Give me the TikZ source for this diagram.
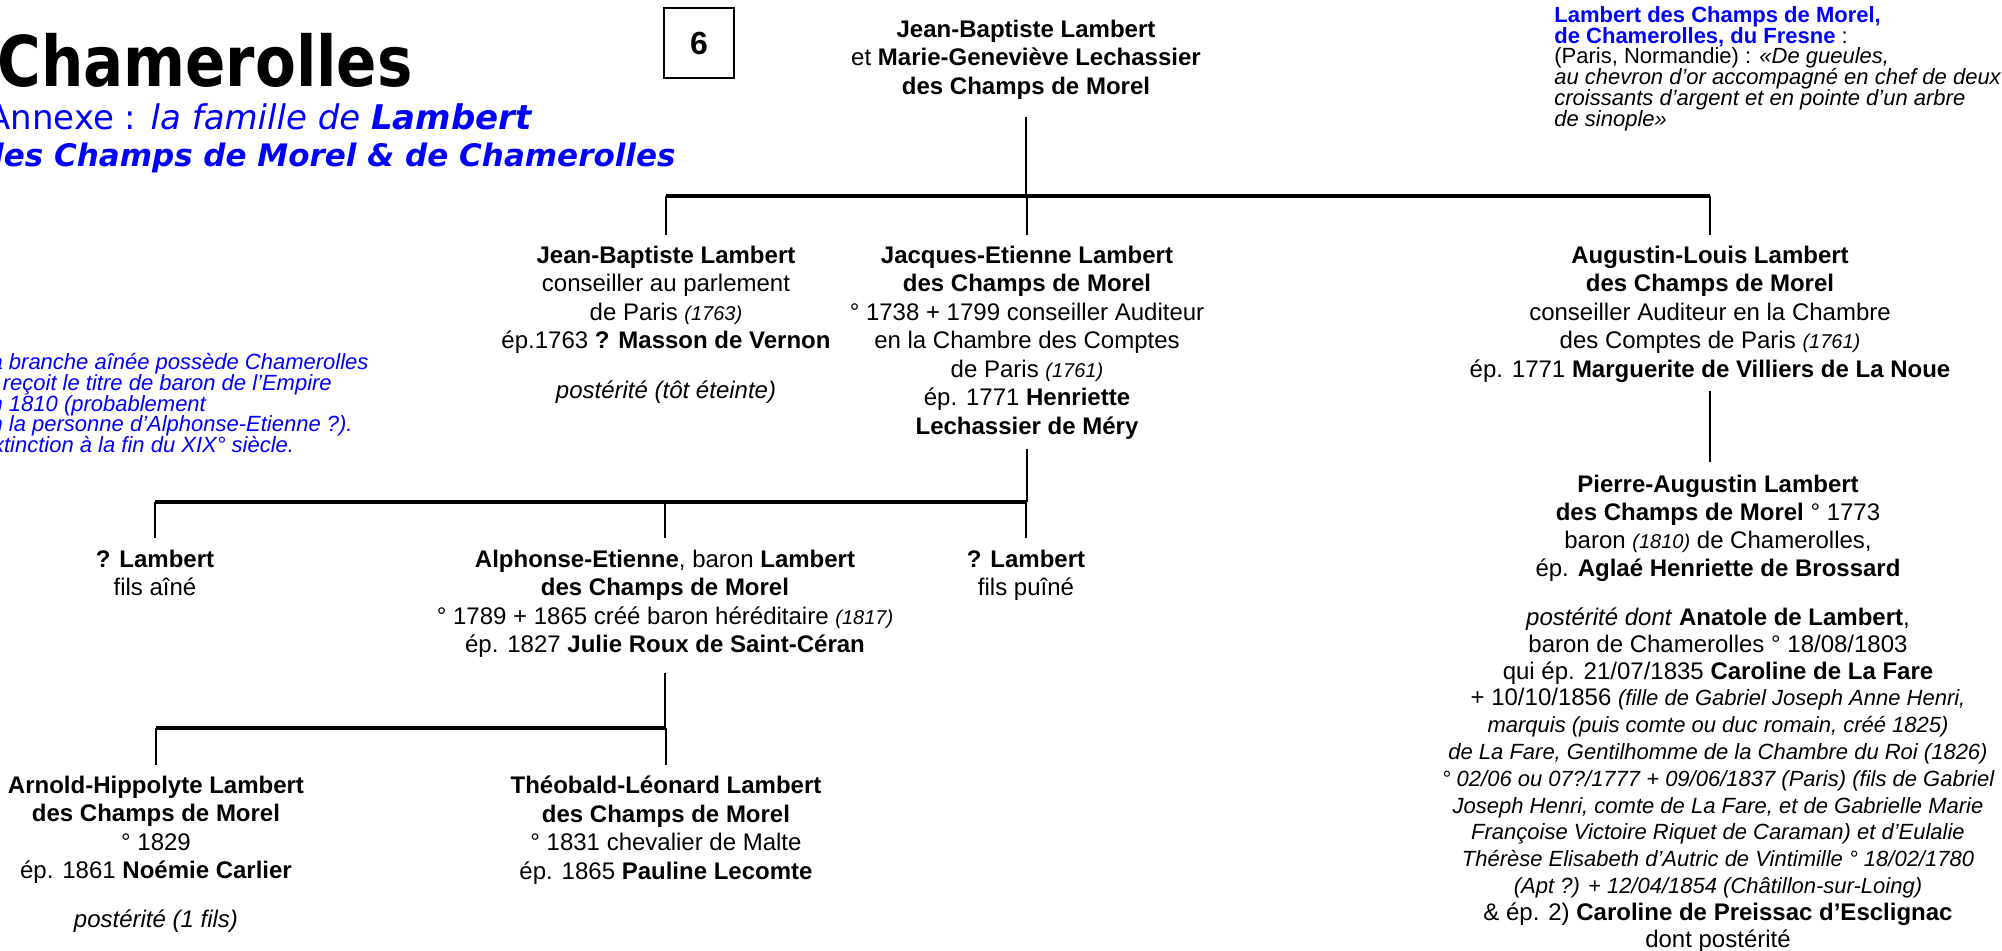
\documentclass[tikz,border=0pt]{standalone}
\usepackage{fontspec}
\setmainfont{Liberation Sans}
\newfontfamily\titlefont[FakeStretch=0.85]{DejaVu Sans}
\newfontfamily\subfont{DejaVu Sans}

\newcommand{\bodysize}{\fontsize{12}{14.25}\selectfont}
\newcommand{\notesize}{\fontsize{11}{10.4}\selectfont}
\newcommand{\yr}[1]{{\fontsize{10}{12}\selectfont\itshape #1}}
\newcommand{\detail}[1]{{\fontsize{11}{13.4}\selectfont\itshape #1}}

\begin{document}
\begin{tikzpicture}[x=0.5pt, y=-0.5pt,
    person/.style={align=center, inner sep=0pt, anchor=north, font=\bodysize},
    remark/.style={align=left, inner sep=0pt, anchor=north west, font=\notesize},
    stem/.style={line width=1.3pt},
    bus/.style={line width=1.8pt}]

            \useasboundingbox (0,0) rectangle (2002,951);

            % Title
            \node[anchor=base west, inner sep=0pt, font=\titlefont\bfseries\fontsize{35}{40}\selectfont] (title) at (-3,87) {Chamerolles};
            \node[anchor=base east, inner sep=0pt, text=blue, font=\subfont\fontsize{17}{20}\selectfont] (annexe) at (533,130) {Annexe : \textit{la famille de} \textbf{\textit{Lambert}}};
            \node[anchor=base east, inner sep=0pt, text=blue, font=\subfont\bfseries\itshape\fontsize{15.5}{18}\selectfont] (branche) at (676,167) {des Champs de Morel \& de Chamerolles};

            % Page number
            \node[draw, line width=0.6pt, minimum width=35pt, minimum height=35pt, inner sep=0pt, font=\bfseries\fontsize{16}{18}\selectfont] (num) at (699,43) {6};

            % Arms
            \node[remark] (arms) at (1554,6) {\textcolor{blue}{\textbf{Lambert des Champs de Morel,}}\\
                \textcolor{blue}{\textbf{de Chamerolles, du Fresne}} :\\
                (Paris, Normandie) : \textit{«De gueules,}\\
                \textit{au chevron d’or accompagné en chef de deux}\\
                \textit{croissants d’argent et en pointe d’un arbre}\\
                \textit{de sinople»}};

            % Note on the elder branch
            \node[remark, text=blue, font=\notesize\itshape] (aine) at (-22,353) {La branche aînée possède Chamerolles\\
                et reçoit le titre de baron de l’Empire\\
                en 1810 (probablement\\
                en la personne d’Alphonse-Etienne ?).\\
                Extinction à la fin du XIX° siècle.};

            % Parents
            \node[person] (root) at (1026,19.5) {\textbf{Jean-Baptiste Lambert}\\
                et \textbf{Marie-Geneviève Lechassier}\\
                \textbf{des Champs de Morel}};

            % Sons
            \node[person] (jbl) at (666,245.5) {\textbf{Jean-Baptiste Lambert}\\
                conseiller au parlement\\
                de Paris \yr{(1763)}\\
                ép.1763 \textbf{? Masson de Vernon}\\[10.5pt]
                \textit{postérité (tôt éteinte)}};
            \node[person] (jacq) at (1027,245.5) {\textbf{Jacques-Etienne Lambert}\\
                \textbf{des Champs de Morel}\\
                ° 1738 + 1799 conseiller Auditeur\\
                en la Chambre des Comptes\\
                de Paris \yr{(1761)}\\
                ép. 1771 \textbf{Henriette}\\
                \textbf{Lechassier de Méry}};
            \node[person] (aug) at (1710,245.5) {\textbf{Augustin-Louis Lambert}\\
                \textbf{des Champs de Morel}\\
                conseiller Auditeur en la Chambre\\
                des Comptes de Paris \yr{(1761)}\\
                ép. 1771 \textbf{Marguerite de Villiers de La Noue}};

            % Younger branch
            \node[person, font=\fontsize{12}{14.1}\selectfont] (pierre) at (1718,474.5) {\textbf{Pierre-Augustin Lambert}\\
                \textbf{des Champs de Morel} ° 1773\\
                baron \yr{(1810)} de Chamerolles,\\
                ép. \textbf{Aglaé Henriette de Brossard}};
            \node[person, font=\fontsize{12}{13.4}\selectfont] (desc) at (1718,607.5) {\textit{postérité dont} \textbf{Anatole de Lambert},\\
                baron de Chamerolles ° 18/08/1803\\
                qui ép. 21/07/1835 \textbf{Caroline de La Fare}\\
                + 10/10/1856 \detail{(fille de Gabriel Joseph Anne Henri,}\\
                \detail{marquis (puis comte ou duc romain, créé 1825)}\\
                \detail{de La Fare, Gentilhomme de la Chambre du Roi (1826)}\\
                \detail{° 02/06 ou 07?/1777 + 09/06/1837 (Paris) (fils de Gabriel}\\
                \detail{Joseph Henri, comte de La Fare, et de Gabrielle Marie}\\
                \detail{Françoise Victoire Riquet de Caraman) et d’Eulalie}\\
                \detail{Thérèse Elisabeth d’Autric de Vintimille ° 18/02/1780}\\
                \detail{(Apt ?) + 12/04/1854 (Châtillon-sur-Loing)}\\
                \& ép. 2) \textbf{Caroline de Preissac d’Esclignac}\\
                dont postérité};

            % Grandsons
            \node[person] (l1) at (155,549.5) {\textbf{? Lambert}\\ fils aîné};
            \node[person] (alph) at (665,549.5) {\textbf{Alphonse-Etienne}, baron \textbf{Lambert}\\
                \textbf{des Champs de Morel}\\
                ° 1789 + 1865 créé baron héréditaire \yr{(1817)}\\
                ép. 1827 \textbf{Julie Roux de Saint-Céran}};
            \node[person] (l2) at (1026,549.5) {\textbf{? Lambert}\\ fils puîné};

            % Great-grandsons
            \node[person] (arn) at (156,775.5) {\textbf{Arnold-Hippolyte Lambert}\\
                \textbf{des Champs de Morel}\\
                ° 1829\\
                ép. 1861 \textbf{Noémie Carlier}\\[10.25pt]
                \textit{postérité (1 fils)}};
            \node[person] (theo) at (666,775.5) {\textbf{Théobald-Léonard Lambert}\\
                \textbf{des Champs de Morel}\\
                ° 1831 chevalier de Malte\\
                ép. 1865 \textbf{Pauline Lecomte}};

            % Bus levels
            \coordinate (b1) at (1025,196);
            \coordinate (b2) at (1025,502);
            \coordinate (b3) at (665,728);

            % Parents to sons
            \draw[stem, shorten <=8.5pt] (root.south) -- (root.south |- b1);
            \draw[bus] (jbl.north |- b1) -- (aug.north |- b1);
            \foreach \c in {jbl,jacq,aug}
                \draw[stem, shorten >=5.25pt] (\c.north |- b1) -- (\c.north);

            % Augustin-Louis to Pierre-Augustin
            \draw[stem, shorten <=4pt, shorten >=6.25pt] (aug.south) -- (aug.south |- pierre.north);

            % Jacques-Etienne to his sons
            \draw[stem, shorten <=4.5pt] (jacq.south) -- (jacq.south |- b2);
            \draw[bus] (l1.north |- b2) -- (l2.north |- b2);
            \foreach \c in {l1,alph,l2}
                \draw[stem, shorten >=5.75pt] (\c.north |- b2) -- (\c.north);

            % Alphonse-Etienne to his sons
            \draw[stem, shorten <=7.5pt] (alph.south) -- (alph.south |- b3);
            \draw[bus] (arn.north |- b3) -- (theo.north |- b3);
            \foreach \c in {arn,theo}
                \draw[stem, shorten >=5.25pt] (\c.north |- b3) -- (\c.north);
        \end{tikzpicture}
\end{document}
